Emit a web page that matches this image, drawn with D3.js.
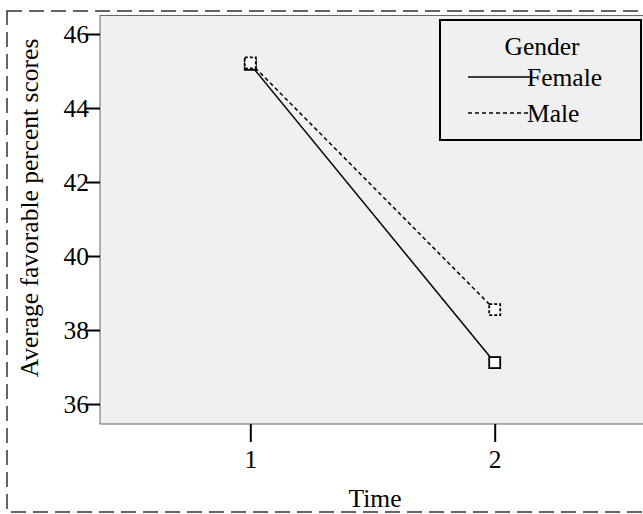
<!DOCTYPE html>
<html>
<head>
<meta charset="utf-8">
<script src="https://cdn.jsdelivr.net/npm/d3@7"></script>
<style>
  body { margin: 0; background: #fff; }
  svg text { font-family: "Liberation Serif", "Times New Roman", serif; fill: #000; }
</style>
</head>
<body>
<div id="chart"></div>
<script>
// data
const times = ["1", "2"];
const female = [45.18, 37.12];
const male = [45.22, 38.55];
const yTicks = [36, 38, 40, 42, 44, 46];
const seriesNames = ["Female", "Male"];

const width = 643;
const height = 514;
const plot = { left: 100, right: 645, top: 15.5, bottom: 424 };
const fontSize = "25.5px";

const svg = d3.select("#chart")
  .append("svg")
  .attr("width", width)
  .attr("height", height);

// outer dashed frame
svg.append("rect")
  .attr("x", 7).attr("y", 11)
  .attr("width", 650).attr("height", 501)
  .attr("fill", "none")
  .attr("stroke", "#333")
  .attr("stroke-width", 1.5)
  .attr("stroke-dasharray", "15,7");

// plot background
svg.append("rect")
  .attr("x", plot.left).attr("y", plot.top)
  .attr("width", plot.right - plot.left)
  .attr("height", plot.bottom - plot.top)
  .attr("fill", "#f0f0f0")
  .attr("stroke", "#666")
  .attr("stroke-width", 1);

// scales
const x = d3.scalePoint()
  .domain(times)
  .range([plot.left, plot.right])
  .padding(0.615);

const y = d3.scaleLinear()
  .domain([35.46, 46.5])
  .range([plot.bottom, plot.top]);

// y axis
const yAxis = svg.append("g")
  .attr("transform", `translate(${plot.left},0)`)
  .call(d3.axisLeft(y).tickValues(yTicks).tickSizeInner(14).tickSizeOuter(0).tickPadding(-3));
yAxis.select(".domain").remove();
yAxis.selectAll(".tick line").attr("stroke", "#000").attr("stroke-width", 2);
yAxis.selectAll(".tick text").style("font-size", fontSize).attr("dy", "0.34em");

// x axis
const xAxis = svg.append("g")
  .attr("transform", `translate(0,${plot.bottom})`)
  .call(d3.axisBottom(x).tickSizeInner(18).tickSizeOuter(0).tickPadding(8));
xAxis.select(".domain").remove();
xAxis.selectAll(".tick line").attr("stroke", "#000").attr("stroke-width", 2);
xAxis.selectAll(".tick text").style("font-size", fontSize);

// lines
const series = [
  { name: seriesNames[0], values: female, dash: null },
  { name: seriesNames[1], values: male, dash: "4,3" }
];

const line = d3.line()
  .x((d, i) => x(times[i]))
  .y((d) => y(d));

series.forEach((s) => {
  svg.append("path")
    .datum(s.values)
    .attr("fill", "none")
    .attr("stroke", "#000")
    .attr("stroke-width", 1.5)
    .attr("stroke-dasharray", s.dash)
    .attr("d", line);
});

// square markers
const ms = 11;
series.forEach((s) => {
  svg.append("g")
    .selectAll("rect")
    .data(s.values)
    .enter()
    .append("rect")
    .attr("x", (d, i) => x(times[i]) - ms / 2)
    .attr("y", (d) => y(d) - ms / 2)
    .attr("width", ms)
    .attr("height", ms)
    .attr("fill", "#fff")
    .attr("stroke", "#000")
    .attr("stroke-width", 1.8)
    .attr("stroke-dasharray", s.dash ? "3,2" : null);
});

// axis titles
svg.append("text")
  .attr("transform", "translate(38,208) rotate(-90)")
  .attr("text-anchor", "middle")
  .style("font-size", fontSize)
  .text("Average favorable percent scores");

svg.append("text")
  .attr("x", 375)
  .attr("y", 507)
  .attr("text-anchor", "middle")
  .style("font-size", fontSize)
  .text("Time");

// legend
const legend = svg.append("g");
legend.append("rect")
  .attr("x", 440).attr("y", 20)
  .attr("width", 201).attr("height", 120)
  .attr("fill", "none")
  .attr("stroke", "#000")
  .attr("stroke-width", 2);

legend.append("text")
  .attr("x", 542).attr("y", 55)
  .attr("text-anchor", "middle")
  .style("font-size", fontSize)
  .text("Gender");

series.forEach((s, i) => {
  const ly = 77 + i * 36;
  legend.append("line")
    .attr("x1", 468).attr("x2", 530)
    .attr("y1", ly).attr("y2", ly)
    .attr("stroke", "#000")
    .attr("stroke-width", 1.5)
    .attr("stroke-dasharray", s.dash);
  legend.append("text")
    .attr("x", 527).attr("y", ly + 9)
    .style("font-size", fontSize)
    .text(s.name);
});
</script>
</body>
</html>
